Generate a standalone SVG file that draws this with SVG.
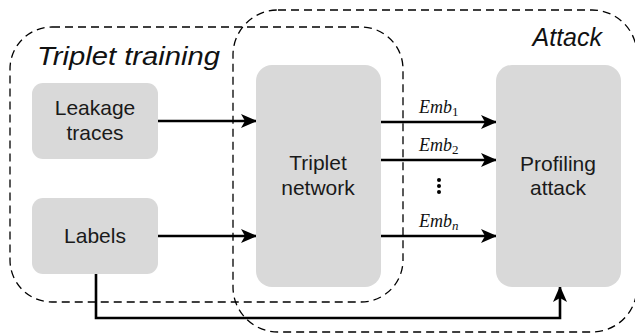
<svg xmlns="http://www.w3.org/2000/svg" width="635" height="334" viewBox="0 0 635 334">
<style>
.grp{fill:none;stroke:#000;stroke-width:1.3;stroke-dasharray:8 5}
.node{fill:#d9d9d9}
.t{font-family:"Liberation Sans",Arial,sans-serif;font-size:21px;fill:#1a1a1a;text-anchor:middle}
.ti{font-family:"Liberation Sans",Arial,sans-serif;font-style:italic;fill:#111}
.emb{font-family:"Liberation Serif","Times New Roman",serif;font-style:italic;font-size:18px;fill:#111}
.sub{font-size:13px;font-style:normal}
.subi{font-size:13px;font-style:italic}
.c{fill:none;stroke:#000;stroke-width:2.6}
</style>
<defs>
<marker id="ah" viewBox="0 0 16 14" refX="15" refY="7" markerWidth="16" markerHeight="14" markerUnits="userSpaceOnUse" orient="auto">
<path d="M0,0 L16,7 L0,14 L4,7 Z" fill="#000"/>
</marker>
</defs>
<g id="group-triplet-training">
<rect class="grp" x="10" y="27" width="393" height="275" rx="42"/>
<text class="ti" x="37" y="65" font-size="26" textLength="183" lengthAdjust="spacingAndGlyphs">Triplet training</text>
</g>
<g id="group-attack">
<rect class="grp" x="233" y="10" width="404" height="322" rx="45"/>
<text class="ti" x="602" y="46" font-size="25" text-anchor="end">Attack</text>
</g>
<g id="connectors">
<line class="c" x1="158" y1="121" x2="256" y2="121" marker-end="url(#ah)"/>
<line class="c" x1="158" y1="236" x2="256" y2="236" marker-end="url(#ah)"/>
<line class="c" x1="381" y1="122" x2="496" y2="122" marker-end="url(#ah)"/>
<line class="c" x1="381" y1="160" x2="496" y2="160" marker-end="url(#ah)"/>
<line class="c" x1="381" y1="236" x2="496" y2="236" marker-end="url(#ah)"/>
<polyline class="c" points="96,274 96,318 560,318 560,287" marker-end="url(#ah)"/>
<text class="emb" x="419" y="113">Emb<tspan class="sub" dy="3">1</tspan></text>
<text class="emb" x="419" y="151">Emb<tspan class="sub" dy="3">2</tspan></text>
<text class="emb" x="419" y="227">Emb<tspan class="subi" dy="3">n</tspan></text>
<circle cx="439" cy="180" r="2"/>
<circle cx="439" cy="186" r="2"/>
<circle cx="439" cy="192" r="2"/>
</g>
<g id="node-leakage">
<rect class="node" x="32" y="83" width="126" height="76" rx="11"/>
<text class="t" x="95" y="115">Leakage</text>
<text class="t" x="95" y="140">traces</text>
</g>
<g id="node-labels">
<rect class="node" x="32" y="198" width="126" height="76" rx="11"/>
<text class="t" x="95" y="243">Labels</text>
</g>
<g id="node-triplet">
<rect class="node" x="256" y="65" width="125" height="222" rx="16"/>
<text class="t" x="318" y="170">Triplet</text>
<text class="t" x="318" y="195">network</text>
</g>
<g id="node-profiling">
<rect class="node" x="496" y="65" width="125" height="222" rx="16"/>
<text class="t" x="558" y="171">Profiling</text>
<text class="t" x="558" y="195">attack</text>
</g>
</svg>
